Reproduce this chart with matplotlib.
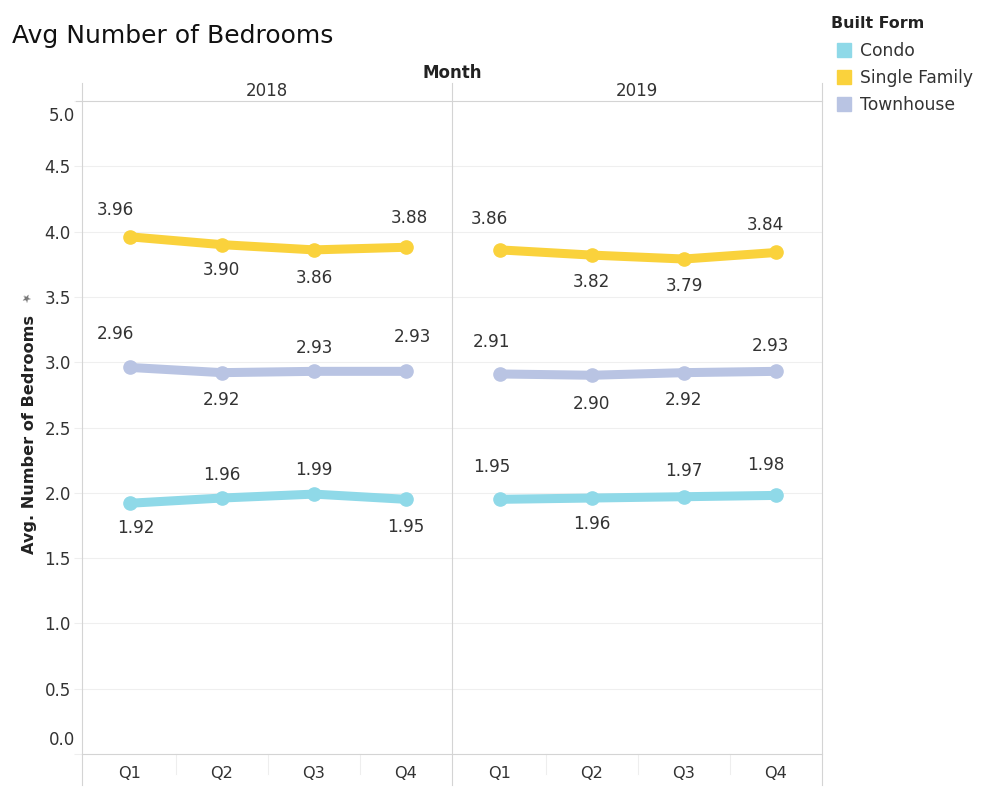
import matplotlib.pyplot as plt
from matplotlib.lines import Line2D
from matplotlib.patches import Rectangle

plt.rcParams['font.family'] = ['DejaVu Sans']

# Data
years = ['2018', '2019']
quarters = ['Q1', 'Q2', 'Q3', 'Q4']
series = ['Condo', 'Single Family', 'Townhouse']
condo = {'2018': [1.92, 1.96, 1.99, 1.95], '2019': [1.95, 1.96, 1.97, 1.98]}
single_family = {'2018': [3.96, 3.90, 3.86, 3.88], '2019': [3.86, 3.82, 3.79, 3.84]}
townhouse = {'2018': [2.96, 2.92, 2.93, 2.93], '2019': [2.91, 2.90, 2.92, 2.93]}
y_ticks = [0.0, 0.5, 1.0, 1.5, 2.0, 2.5, 3.0, 3.5, 4.0, 4.5, 5.0]

values = {'Condo': condo, 'Single Family': single_family, 'Townhouse': townhouse}
colors = {'Condo': '#8fd9e8', 'Single Family': '#fad23c', 'Townhouse': '#b9c4e3'}

# label offsets in pixels (dx, dy), Tableau-like placement
offsets = {
    'Single Family': {'2018': [(-14, 27), (0, -25), (0, -28), (3, 29)],
                      '2019': [(-10, 31), (0, -27), (0, -27), (-11, 27)]},
    'Townhouse': {'2018': [(-14, 33), (0, -27), (0, 23), (6, 34)],
                  '2019': [(-8, 32), (0, -29), (0, -27), (-6, 25)]},
    'Condo': {'2018': [(6, -25), (0, 23), (0, 24), (0, -28)],
              '2019': [(-8, 32), (0, -26), (0, 26), (-10, 30)]},
}

W, H = 994, 796
fig = plt.figure(figsize=(W / 100, H / 100), dpi=100)


def fx(px):
    return px / W


def fy(py):
    return 1 - py / H


grid_c = '#d4d4d4'
text_c = '#333333'

left, right, top, bottom = 82, 822, 101, 754
panel_w = (right - left) / 2

for i, yr in enumerate(years):
    x0 = left + i * panel_w
    ax = fig.add_axes([fx(x0), fy(bottom), fx(panel_w), (bottom - top) / H])
    ax.set_xlim(-0.52, 3.5)
    ax.set_ylim(0, 5)
    for s in ax.spines.values():
        s.set_visible(False)
    for t in y_ticks[1:-1]:
        ax.axhline(t, color='#efefef', lw=0.8, zorder=0)
    for s in series:
        ys = values[s][yr]
        ax.plot(range(4), ys, color=colors[s], lw=6.5, marker='o', ms=9.5,
                solid_capstyle='round', zorder=3, clip_on=False)
        for j, v in enumerate(ys):
            dx, dy = offsets[s][yr][j]
            ax.annotate(f'{v:.2f}', (j, v), xytext=(dx, dy), textcoords='offset pixels',
                        ha='center', va='center', fontsize=12.2, color=text_c)
    ax.set_xticks(range(4))
    ax.set_xticklabels(quarters, fontsize=11.6, color=text_c)
    ax.tick_params(axis='x', length=0, pad=9)
    if i == 0:
        ax.set_yticks(y_ticks)
        # Tableau pushes the end labels inside the axis, drawn separately below
        tick_text = [f'{t:.1f}' for t in y_ticks]
        ax.set_yticklabels([''] + tick_text[1:-1] + [''], fontsize=12, color=text_c)
        ax.tick_params(axis='y', length=6, color='#eeeeee', pad=2)
        fig.text(fx(75), fy(740), tick_text[0], ha='right', va='center',
                 fontsize=12, color=text_c)
        fig.text(fx(75), fy(116), tick_text[-1], ha='right', va='center',
                 fontsize=12, color=text_c)
    else:
        ax.set_yticks([])
    # small separators between quarters on the bottom axis
    for xs in [0.5, 1.5, 2.5]:
        ax.plot([xs, xs], [0, -0.03], transform=ax.get_xaxis_transform(),
                color='#eeeeee', lw=0.8, clip_on=False)
    fig.text(fx(x0 + panel_w / 2), fy(91.5), yr, ha='center', va='center',
             fontsize=12, color=text_c)

# frame lines
for xv in [left, left + panel_w, right]:
    fig.add_artist(Line2D([fx(xv), fx(xv)], [fy(83), fy(785)], color=grid_c, lw=0.8))
fig.add_artist(Line2D([fx(76), fx(right)], [fy(top), fy(top)], color=grid_c, lw=0.8))
fig.add_artist(Line2D([fx(left), fx(right)], [fy(bottom), fy(bottom)], color=grid_c, lw=0.8))

# titles
fig.text(fx(12), fy(43), 'Avg Number of Bedrooms', ha='left', va='baseline',
         fontsize=18, color='#111111')
fig.text(fx(452), fy(73.5), 'Month', ha='center', va='center', fontsize=12,
         fontweight='bold', color='#222222')
fig.text(fx(30), fy(434), 'Avg. Number of Bedrooms', ha='center', va='center',
         rotation=90, fontsize=11.6, fontweight='bold', color='#222222')
fig.text(fx(28), fy(299), '\u2605', ha='center', va='center', rotation=45,
         fontsize=8, color='#777777')

# legend
fig.text(fx(831), fy(24), 'Built Form', ha='left', va='center', fontsize=11.4,
         fontweight='bold', color='#222222')
for k, s in enumerate(series):
    yc = 50 + k * 27
    fig.add_artist(Rectangle((fx(837), fy(yc + 7)), fx(14), 14 / H,
                             color=colors[s], transform=fig.transFigure))
    fig.text(fx(860), fy(yc + 1), s, ha='left', va='center', fontsize=12.3, color=text_c)

fig.savefig('out.png', dpi=100)
